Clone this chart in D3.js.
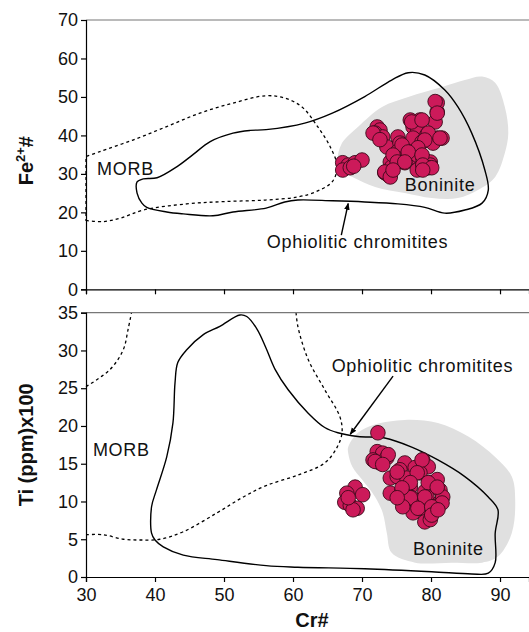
<!DOCTYPE html>
<html>
<head>
<meta charset="utf-8">
<script src="https://cdn.jsdelivr.net/npm/d3@7"></script>
<style>
  html, body { margin: 0; padding: 0; background: #fff; }
  svg { display: block; }
  text { font-family: "Liberation Sans", Arial, Helvetica, sans-serif; fill: #111; }
</style>
</head>
<body>
<svg id="chart" width="529" height="632"></svg>
<script>
// ---- Axis ticks ----
const crTicks = [30, 40, 50, 60, 70, 80, 90];
const feTicks = [0, 10, 20, 30, 40, 50, 60, 70];
const tiTicks = [0, 5, 10, 15, 20, 25, 30, 35];

// ---- Upper panel: Cr# vs Fe2+# ----
const topCr = [67.2, 68.0, 69.0, 70.0, 67.2, 68.3, 68.8,
  72.2, 72.6, 71.9, 73.0, 73.6, 75.2, 75.5, 75.1, 75.8, 74.1, 73.3, 73.8, 74.3, 76.7,
  77.0, 77.4, 78.4, 78.1, 79.4, 79.9, 80.9, 81.6, 80.6, 80.9, 80.9, 77.0, 78.0, 78.8,
  79.9, 78.4, 79.4, 79.9, 76.2, 76.5, 77.4, 78.7, 80.3, 78.0, 79.6,
  80.6, 80.9, 77.2, 78.7, 71.6, 72.6, 75.8, 79.6, 81.3, 79.1, 78.1, 76.7, 74.5,
  75.1, 76.2, 78.7, 78.8, 80.1, 78.8, 73.3, 74.1, 74.5];
const topFe = [32.9, 32.3, 32.9, 33.6, 31.0, 31.6, 32.0,
  42.2, 41.4, 40.6, 39.6, 37.0, 39.6, 38.0, 35.7, 34.9, 33.1, 30.3, 29.7, 31.8, 37.5,
  44.0, 42.2, 44.0, 41.4, 40.1, 39.3, 39.3, 39.3, 43.5, 46.1, 48.5, 34.2, 34.9, 34.2,
  33.1, 31.6, 31.6, 32.3, 32.9, 35.7, 39.3, 38.3, 38.0, 31.0, 31.6,
  48.8, 45.8, 43.5, 44.0, 40.6, 38.9, 37.5, 40.6, 39.3, 38.8, 36.8, 35.7, 34.9,
  33.1, 33.1, 34.9, 32.3, 31.6, 31.0, 30.5, 29.2, 31.0];

// Field outlines, upper panel [Cr#, Fe2+#]
const topBoninite = [[66.4,33.6],[67.1,38],[69.4,42.2],[72.9,47.4],[76.7,50],[81.6,52.6],
  [84.9,54.4],[87.4,55.3],[89.3,53.7],[90.7,47.4],[91.2,40.6],[90.7,35.4],[89.3,29.2],
  [86.8,25.8],[83.9,23.7],[80.1,23.7],[76.2,25],[71.9,26.6],[68.6,29.2],[66.5,31]];
const topOphiolite = [[37.4,27.9],[38.3,28.7],[40.3,29],[43.2,31.9],[45.5,35],[48,38.4],
  [51.3,40.6],[53.8,41.3],[56.1,41.5],[61.7,43.2],[65.7,45.8],[70.4,50.1],[74.3,54.4],
  [76.7,56.3],[79.1,55.7],[82,51.8],[83.9,47.4],[85.9,40.6],[87.8,31],[88.3,25.8],
  [87.4,22.4],[84.9,20.6],[82,19.8],[79.1,21.3],[75.2,22.2],[70.4,22.7],[65.7,23],
  [60.7,23.2],[58.8,22.7],[56.1,21.1],[51.3,20.1],[48.4,19.1],[44.1,19.6],[41.7,20.1],
  [38.8,21.3],[38.1,22.4],[37.4,25]];
const topMorb = [[30,17.9],[32.5,17.6],[35,18.5],[38.3,20.6],[44.6,22.2],[50,22.8],
  [56,23.2],[60.7,24],[63.5,25.5],[65.7,28],[66.4,31.9],[65.4,37],[63.6,42.2],[61.3,47.4],
  [58.8,49.7],[56,50.3],[51.3,48.4],[46.5,45.8],[41.7,42.3],[36.8,38.8],[32,35.8],[30,34.5]];

// ---- Lower panel: Cr# vs Ti (ppm)x100 ----
const botCr = [72.3, 69.0, 70.1, 67.8, 67.5, 68.3, 69.3, 68.7, 68.0,
  72.2, 73.0, 71.6, 72.6, 73.6, 74.1, 74.1, 76.2, 75.5, 77.7, 78.8, 79.6, 78.4, 77.0,
  79.9, 79.1, 77.2, 79.4, 81.3, 76.2, 78.0, 80.3, 79.4, 79.1, 79.9, 75.8, 75.1, 76.5,
  81.3, 80.9, 77.4, 81.7,
  73.8, 71.9, 73.0, 78.7, 78.0, 75.1, 77.0, 79.6, 80.9, 77.0, 79.1, 81.6, 75.9,
  78.1, 80.1, 80.1, 81.0, 75.8, 75.1];
const botTi = [19.1, 11.9, 10.9, 11.1, 9.9, 9.5, 9.1, 8.9, 10.5,
  16.6, 16.4, 15.5, 15.1, 15.8, 13.1, 11.1, 15.1, 14.2, 14.5, 15.5, 14.6, 13.8, 11.9,
  12.5, 11.3, 10.5, 10.6, 9.9, 9.8, 9.3, 9.3, 8.6, 7.3, 7.6, 11.5, 13.3, 13.1,
  11.5, 12.9, 8.5, 10.6,
  16.2, 15.3, 14.9, 15.5, 13.8, 13.9, 12.5, 12.5, 11.9, 10.5, 10.6, 9.8, 9.3,
  9.1, 9.3, 8.2, 8.9, 11.8, 10.5];

// Field outlines, lower panel [Cr#, Ti]
const botBoninite = [[68,17.2],[69.4,19.1],[71.9,20.2],[76.2,20.8],[81,20.4],[85.4,18.6],
  [89.3,15.9],[91.7,13.3],[92.2,10.2],[91.7,5.8],[89.7,2.7],[87.4,1.9],[83,1.9],[77.7,1.9],
  [74.3,3.2],[73.6,5.8],[73,8.5],[71.9,10.6],[70,12.9],[68.6,14.6],[68,16.4]];
const botOphiolite = [[39.5,5.8],[39.5,9.3],[40.2,11.5],[41.7,15.9],[42.6,20.4],[42.9,25.7],
  [43.3,28.4],[44.6,30.1],[47,32.1],[49.4,33.2],[52.3,34.7],[53.3,34.5],[54.8,32.8],
  [56.1,30.3],[57.4,27.5],[59.3,24.8],[62.2,21.7],[64.6,19.8],[66.5,19.1],[69.4,18.6],
  [73.3,18.4],[77.2,17.2],[81,15.5],[84.9,13.3],[88.3,10.6],[89.7,8.9],[89.3,5.8],
  [89.3,1.9],[88.3,0.5],[85.9,0.4],[80.1,0.7],[70.4,1.1],[60.7,1.3],[56.1,1.5],[49,2.3],
  [44.1,2.9],[41.2,4],[40,4.9]];
const botMorbUpper = [[30,25.2],[33.5,27.5],[35.4,30.1],[36.1,32.8],[36.7,35.5]];
const botMorbLower = [[30,5.6],[32.5,5.6],[35.4,5.0],[37.8,4.9],[40.7,5.0],[44.1,6],
  [49,8.5],[52.8,10.6],[56.1,12.1],[60.7,13.5],[64.6,15.1],[66.4,17.2],[67.1,19.1],
  [66.8,21.2],[64.6,24.8],[62.2,28.8],[60.7,33.2],[60.4,35.5]];

// ---- Layout ----
const left = 86, right = 529;
const topPanel = { y0: 20, y1: 289.3 };
const botPanel = { y0: 312.7, y1: 577 };

const COL = {
  dot: "#CC1A5A", dotStroke: "#3A0A1A", field: "#E0E0E0", line: "#000", frame: "#777"
};

const svg = d3.select("#chart");

const x = d3.scaleLinear().domain([30, 94.2]).range([left, right]);
const yTop = d3.scaleLinear().domain([0, 70]).range([topPanel.y1, topPanel.y0]);
const yBot = d3.scaleLinear().domain([0, 35]).range([botPanel.y1, botPanel.y0]);

const defs = svg.append("defs");
defs.append("marker").attr("id", "arrowHead")
  .attr("viewBox", "0 0 10 10").attr("refX", 9).attr("refY", 5)
  .attr("markerWidth", 7).attr("markerHeight", 7).attr("markerUnits", "userSpaceOnUse")
  .attr("orient", "auto")
  .append("path").attr("d", "M0,1 L10,5 L0,9 Z").attr("fill", "#000");

function clip(id, p) {
  defs.append("clipPath").attr("id", id).append("rect")
    .attr("x", left - 1).attr("y", p.y0).attr("width", right - left + 1).attr("height", p.y1 - p.y0);
}
clip("clipTop", topPanel);
clip("clipBot", botPanel);

function drawPanel(opts) {
  const { y, panel, clipId, boninite, ophiolite, morbPaths, cr, val, labels, arrow, ticks, showXLabels } = opts;
  const g = svg.append("g");
  const inner = g.append("g").attr("clip-path", `url(#${clipId})`);

  const closed = d3.line().x(d => x(d[0])).y(d => y(d[1])).curve(d3.curveCatmullRomClosed.alpha(0.5));
  const open = d3.line().x(d => x(d[0])).y(d => y(d[1])).curve(d3.curveCatmullRom.alpha(0.5));

  inner.append("path").attr("d", closed(boninite)).attr("fill", COL.field).attr("stroke", "none");

  morbPaths.forEach(m => {
    inner.append("path").attr("d", open(m.pts) + (m.close ? "Z" : ""))
      .attr("fill", "none").attr("stroke", COL.line).attr("stroke-width", 1.3)
      .attr("stroke-dasharray", "3,3");
  });

  inner.append("path").attr("d", closed(ophiolite))
    .attr("fill", "none").attr("stroke", COL.line).attr("stroke-width", 1.4);

  inner.selectAll("circle.pt").data(d3.zip(cr, val)).join("circle")
    .attr("class", "pt")
    .attr("cx", d => x(d[0])).attr("cy", d => y(d[1])).attr("r", 7.3)
    .attr("fill", COL.dot).attr("stroke", COL.dotStroke).attr("stroke-width", 0.9);

  // frame: top border and axes
  g.append("line").attr("x1", left).attr("x2", right).attr("y1", panel.y0).attr("y2", panel.y0)
    .attr("stroke", COL.frame).attr("stroke-width", 1.2);

  const yAxis = d3.axisLeft(y).tickValues(ticks).tickSize(5).tickPadding(3).tickFormat(d3.format("d"));
  const ya = g.append("g").attr("transform", `translate(${left},0)`).call(yAxis);
  ya.select(".domain").attr("stroke", "#000").attr("stroke-width", 1.2);
  ya.selectAll(".tick line").attr("stroke", "#000").attr("stroke-width", 1.2);
  ya.selectAll(".tick text").attr("font-size", 18).attr("fill", "#111")
    .attr("font-family", "Liberation Sans, Arial, sans-serif");

  const xAxis = d3.axisBottom(x).tickValues(crTicks).tickSize(5).tickPadding(6)
    .tickFormat(showXLabels ? d3.format("d") : () => "");
  const xa = g.append("g").attr("transform", `translate(0,${panel.y1})`).call(xAxis);
  xa.select(".domain").attr("stroke", "#000").attr("stroke-width", 1.2);
  xa.selectAll(".tick line").attr("stroke", "#000").attr("stroke-width", 1.2);
  xa.selectAll(".tick text").attr("font-size", 18).attr("fill", "#111")
    .attr("font-family", "Liberation Sans, Arial, sans-serif");

  labels.forEach(l => {
    g.append("text").attr("x", x(l.x)).attr("y", y(l.y))
      .attr("font-size", 18).attr("letter-spacing", 0.7).text(l.text);
  });

  g.append("line")
    .attr("x1", x(arrow.from[0])).attr("y1", y(arrow.from[1]))
    .attr("x2", x(arrow.to[0])).attr("y2", y(arrow.to[1]))
    .attr("stroke", "#000").attr("stroke-width", 1.4).attr("marker-end", "url(#arrowHead)");
}

drawPanel({
  y: yTop, panel: topPanel, clipId: "clipTop",
  boninite: topBoninite, ophiolite: topOphiolite,
  morbPaths: [{ pts: topMorb, close: true }],
  cr: topCr, val: topFe, ticks: feTicks, showXLabels: false,
  labels: [
    { text: "MORB", x: 31.6, y: 29.7 },
    { text: "Boninite", x: 76.2, y: 25.6 },
    { text: "Ophiolitic chromitites", x: 56.2, y: 10.7 }
  ],
  arrow: { from: [67.0, 14.1], to: [68.0, 22.3] }
});

drawPanel({
  y: yBot, panel: botPanel, clipId: "clipBot",
  boninite: botBoninite, ophiolite: botOphiolite,
  morbPaths: [{ pts: botMorbUpper, close: false }, { pts: botMorbLower, close: false }],
  cr: botCr, val: botTi, ticks: tiTicks, showXLabels: true,
  labels: [
    { text: "MORB", x: 31.0, y: 16.0 },
    { text: "Boninite", x: 77.4, y: 2.9 },
    { text: "Ophiolitic chromitites", x: 65.6, y: 27.2 }
  ],
  arrow: { from: [74.5, 26.6], to: [68.3, 18.9] }
});

// Axis titles
const feTitle = svg.append("text")
  .attr("transform", `translate(33,${(topPanel.y0 + topPanel.y1) / 2 + 6}) rotate(-90)`)
  .attr("text-anchor", "middle").attr("font-size", 20).attr("font-weight", "bold");
feTitle.append("tspan").text("Fe");
feTitle.append("tspan").attr("font-size", 13).attr("dy", -8).text("2+");
feTitle.append("tspan").attr("dy", 8).text("#");

svg.append("text")
  .attr("transform", `translate(33,${(botPanel.y0 + botPanel.y1) / 2}) rotate(-90)`)
  .attr("text-anchor", "middle").attr("font-size", 20).attr("font-weight", "bold")
  .text("Ti (ppm)x100");

svg.append("text")
  .attr("x", 312).attr("y", 627)
  .attr("text-anchor", "middle").attr("font-size", 20).attr("font-weight", "bold")
  .text("Cr#");
</script>
</body>
</html>
